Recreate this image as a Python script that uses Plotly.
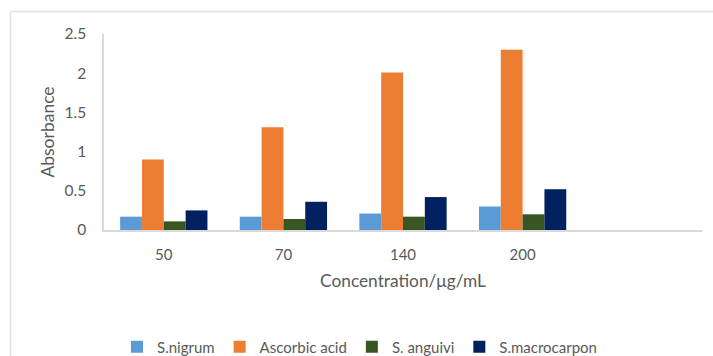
import plotly.graph_objects as go

# Concentrations tested (µg/mL) and measured absorbance per sample
concentrations = ["50", "70", "140", "200"]
s_nigrum = [0.17, 0.17, 0.21, 0.30]
ascorbic_acid = [0.90, 1.31, 2.01, 2.30]
s_anguivi = [0.11, 0.14, 0.17, 0.20]
s_macrocarpon = [0.25, 0.36, 0.42, 0.52]

series = [
    ("S.nigrum", s_nigrum, "#5B9BD5"),
    ("Ascorbic acid", ascorbic_acid, "#ED7D31"),
    ("S. anguivi", s_anguivi, "#375623"),
    ("S.macrocarpon", s_macrocarpon, "#002060"),
]

FONT = "Lato"
TEXT = "#595959"
AXIS = "#D9D9D9"

fig = go.Figure()
for name, vals, color in series:
    fig.add_trace(go.Bar(
        x=concentrations, y=vals, name=name,
        marker=dict(color=color, line=dict(width=0)),
    ))

W, H = 713, 356
L, R, T, B = 104, 11, 34, 126
pw, ph = W - L - R, H - T - B

def px_x(x):
    return (x - L) / pw

def px_y(y):
    return 1 - (y - T) / ph

fig.update_layout(
    width=W, height=H,
    margin=dict(l=L, r=R, t=T, b=B, pad=0, autoexpand=False),
    paper_bgcolor="white", plot_bgcolor="white",
    barmode="group", bargap=0.27, bargroupgap=0,
    font=dict(family=FONT, color=TEXT, size=15),
    showlegend=True,
    legend=dict(
        orientation="h", x=px_x(117), y=px_y(347), xanchor="left", yanchor="middle",
        font=dict(family=FONT, size=15, color=TEXT),
        itemsizing="constant", tracegroupgap=0,
    ),
    xaxis=dict(
        type="category", range=[-0.5, 4.5], automargin=False,
        showline=True, linecolor=AXIS, linewidth=1.5,
        ticks="outside", ticklen=10, tickcolor="rgba(0,0,0,0)",
        showgrid=False, zeroline=False,
        tickfont=dict(size=15, color=TEXT),
        title=dict(text="Concentration/μg/mL", font=dict(size=17.3, color=TEXT), standoff=13),
    ),
    yaxis=dict(
        range=[0, 2.5], dtick=0.5, automargin=False,
        showline=True, linecolor=AXIS, linewidth=1.5,
        ticks="outside", ticklen=13, tickcolor="rgba(0,0,0,0)",
        showgrid=False, zeroline=False,
        tickfont=dict(size=15.5, color=TEXT),
        title=dict(text="Absorbance", font=dict(size=17.5, color=TEXT), standoff=5),
    ),
    shapes=[
        # outer chart frame (left and top edges)
        dict(type="line", xref="paper", yref="paper",
             x0=px_x(10.5), x1=px_x(10.5), y0=px_y(11.5), y1=px_y(H + 5),
             line=dict(color="#E3E3E3", width=1.5)),
        dict(type="line", xref="paper", yref="paper",
             x0=px_x(10.5), x1=px_x(W + 5), y0=px_y(11.5), y1=px_y(11.5),
             line=dict(color="#E3E3E3", width=1.5)),
    ],
)

fig.write_html("out.html")
